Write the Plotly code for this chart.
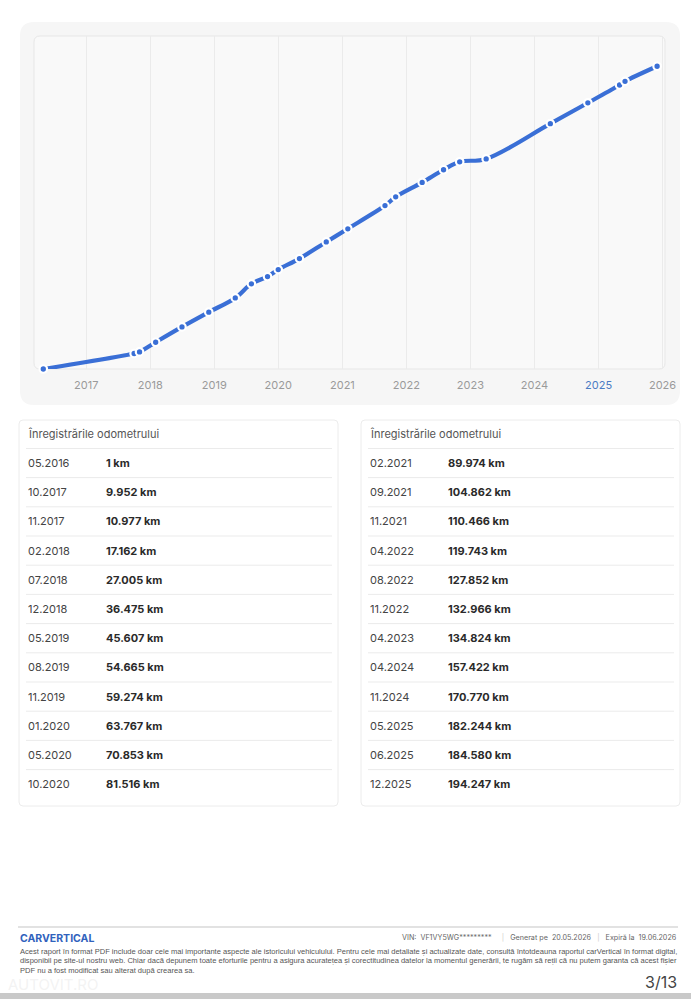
import plotly.graph_objects as go

W, H = 691, 999

# ---------------- data ----------------
dates_left = ["05.2016", "10.2017", "11.2017", "02.2018", "07.2018", "12.2018",
              "05.2019", "08.2019", "11.2019", "01.2020", "05.2020", "10.2020"]
km_left = [1, 9952, 10977, 17162, 27005, 36475, 45607, 54665, 59274, 63767, 70853, 81516]
dates_right = ["02.2021", "09.2021", "11.2021", "04.2022", "08.2022", "11.2022",
               "04.2023", "04.2024", "11.2024", "05.2025", "06.2025", "12.2025"]
km_right = [89974, 104862, 110466, 119743, 127852, 132966, 134824, 157422, 170770,
            182244, 184580, 194247]
year_ticks = ["2017", "2018", "2019", "2020", "2021", "2022", "2023", "2024", "2025", "2026"]
table_title = "Înregistrările odometrului"

all_dates = dates_left + dates_right
all_km = km_left + km_right


def to_iso(d):
    m, y = d.split(".")
    return f"{y}-{m}-01"


def fmt_km(v):
    return f"{v:,}".replace(",", ".") + " km"


x_iso = [to_iso(d) for d in all_dates]

BLUE = "#3a6fd6"


def px(x):
    return x / W


def py(y):
    return 1 - y / H


def rrect(x0, y0, x1, y1, r):
    # rounded rectangle path in paper coords from pixel coords
    pts = [
        f"M {px(x0 + r)} {py(y0)}",
        f"L {px(x1 - r)} {py(y0)}",
        f"Q {px(x1)} {py(y0)} {px(x1)} {py(y0 + r)}",
        f"L {px(x1)} {py(y1 - r)}",
        f"Q {px(x1)} {py(y1)} {px(x1 - r)} {py(y1)}",
        f"L {px(x0 + r)} {py(y1)}",
        f"Q {px(x0)} {py(y1)} {px(x0)} {py(y1 - r)}",
        f"L {px(x0)} {py(y0 + r)}",
        f"Q {px(x0)} {py(y0)} {px(x0 + r)} {py(y0)}",
        "Z",
    ]
    return " ".join(pts)


fig = go.Figure()

fig.add_trace(go.Scatter(
    x=x_iso, y=all_km, mode="lines+markers",
    line=dict(color=BLUE, width=4.2, shape="spline", smoothing=1.0),
    marker=dict(size=7.5, color=BLUE, line=dict(color="#ffffff", width=2.2)),
    hoverinfo="skip", showlegend=False, cliponaxis=False,
))

# plot area pixel box
PX0, PX1, PY0, PY1 = 34, 665, 36, 369

tick_text = []
for t in year_ticks:
    if t == "2025":
        tick_text.append("<span style='color:#4a7cc4'>2025</span>")
    else:
        tick_text.append(t)

fig.update_layout(
    width=W, height=H,
    autosize=False,
    margin=dict(l=0, r=0, t=0, b=0, autoexpand=False),
    paper_bgcolor="#ffffff",
    plot_bgcolor="rgba(0,0,0,0)",
    font=dict(family="Inter, Roboto, sans-serif", color="#333333"),
    xaxis=dict(
        type="date",
        domain=[px(PX0), px(PX1)],
        range=["2016-03-09", "2026-01-15"],
        tickvals=[f"{t}-01-01" for t in year_ticks],
        ticktext=tick_text,
        tickfont=dict(size=11, color="#9a9a9a"),
        showgrid=True, gridcolor="#ebebeb", gridwidth=1,
        zeroline=False, showline=False,
        ticks="outside", ticklen=6, tickcolor="rgba(0,0,0,0)",
        fixedrange=True, automargin=False,
    ),
    yaxis=dict(
        domain=[py(PY1), py(PY0)],
        range=[0, 194247 * 1.1],
        showgrid=False, zeroline=False, showline=False,
        showticklabels=False, fixedrange=True, automargin=False,
    ),
)

shapes = []
# outer chart card
shapes.append(dict(type="path", path=rrect(20, 22, 680, 405, 14), xref="paper", yref="paper",
                   fillcolor="#f6f6f6", line=dict(width=0), layer="below"))
# inner plot area
shapes.append(dict(type="path", path=rrect(PX0, PY0, PX1, PY1, 6), xref="paper", yref="paper",
                   fillcolor="#f9f9f9", line=dict(color="#e7e7e7", width=1), layer="below"))

annotations = []

# tables
ROW0 = 463
ROWH = 29.2
for (cx0, cx1, dates, kms) in [(19, 338, dates_left, km_left), (361, 680, dates_right, km_right)]:
    shapes.append(dict(type="path", path=rrect(cx0, 420, cx1, 806, 4), xref="paper", yref="paper",
                       fillcolor="#ffffff", line=dict(color="#ececec", width=1), layer="below"))
    annotations.append(dict(x=px(cx0 + 7), y=py(434), xref="paper", yref="paper", text=table_title,
                            showarrow=False, xanchor="left", yanchor="middle",
                            font=dict(size=11, color="#555555")))
    seps = [448.5] + [ROW0 + ROWH * (i + 0.5) for i in range(len(dates) - 1)]
    for s in seps:
        shapes.append(dict(type="line", x0=px(cx0 + 7), x1=px(cx1 - 6), y0=py(s), y1=py(s),
                           xref="paper", yref="paper", line=dict(color="#ebebeb", width=1)))
    for i, (d, v) in enumerate(zip(dates, kms)):
        yy = ROW0 + ROWH * i
        annotations.append(dict(x=px(cx0 + 7), y=py(yy), xref="paper", yref="paper", text=d,
                                showarrow=False, xanchor="left", yanchor="middle",
                                font=dict(size=11, color="#444444")))
        annotations.append(dict(x=px(cx0 + 85), y=py(yy), xref="paper", yref="paper",
                                text="<b>" + fmt_km(v) + "</b>",
                                showarrow=False, xanchor="left", yanchor="middle",
                                font=dict(size=11, color="#2a2a2a")))

# footer
shapes.append(dict(type="line", x0=px(18), x1=px(678), y0=py(927), y1=py(927),
                   xref="paper", yref="paper", line=dict(color="#e2e2e2", width=2)))
shapes.append(dict(type="rect", x0=0, x1=1, y0=0, y1=py(993), xref="paper", yref="paper",
                   fillcolor="#c9c9c9", line=dict(width=0)))

annotations.append(dict(x=px(18), y=py(938.5), xref="paper", yref="paper", text="<b>CARVERTICAL</b>",
                        showarrow=False, xanchor="left", yanchor="middle",
                        font=dict(size=10.5, color="#3062bd", family="Inter, sans-serif")))
annotations.append(dict(x=px(679), y=py(937.5), xref="paper", yref="paper",
                        text="VIN:  VF1VY5WG*********&nbsp;&nbsp;&nbsp;&nbsp;&nbsp;<span style='color:#cccccc'>|</span>&nbsp;&nbsp;&nbsp;Generat pe  20.05.2026&nbsp;&nbsp;&nbsp;<span style='color:#cccccc'>|</span>&nbsp;&nbsp;&nbsp;Expiră la  19.06.2026",
                        showarrow=False, xanchor="right", yanchor="middle",
                        font=dict(size=7.2, color="#666666")))
disclaimer = [
    "Acest raport în format PDF include doar cele mai importante aspecte ale istoricului vehiculului. Pentru cele mai detaliate și actualizate date, consultă întotdeauna raportul carVertical în format digital,",
    "disponibil pe site-ul nostru web. Chiar dacă depunem toate eforturile pentru a asigura acuratețea și corectitudinea datelor la momentul generării, te rugăm să reții că nu putem garanta că acest fișier",
    "PDF nu a fost modificat sau alterat după crearea sa.",
]
for i, line in enumerate(disclaimer):
    annotations.append(dict(x=px(18), y=py(951 + 9.6 * i), xref="paper", yref="paper", text=line,
                            showarrow=False, xanchor="left", yanchor="middle",
                            font=dict(size=7.55, color="#555555", family="Liberation Sans Narrow, Arial Narrow, sans-serif")))
annotations.append(dict(x=px(679), y=py(982), xref="paper", yref="paper", text="3/13",
                        showarrow=False, xanchor="right", yanchor="middle",
                        font=dict(size=16, color="#444444")))
annotations.append(dict(x=px(6), y=py(984), xref="paper", yref="paper", text="AUTOVIT.RO",
                        showarrow=False, xanchor="left", yanchor="middle",
                        font=dict(size=15, color="rgba(228,228,228,0.45)")))

fig.update_layout(shapes=shapes, annotations=annotations)

fig.write_html("out.html", config={"responsive": False})
